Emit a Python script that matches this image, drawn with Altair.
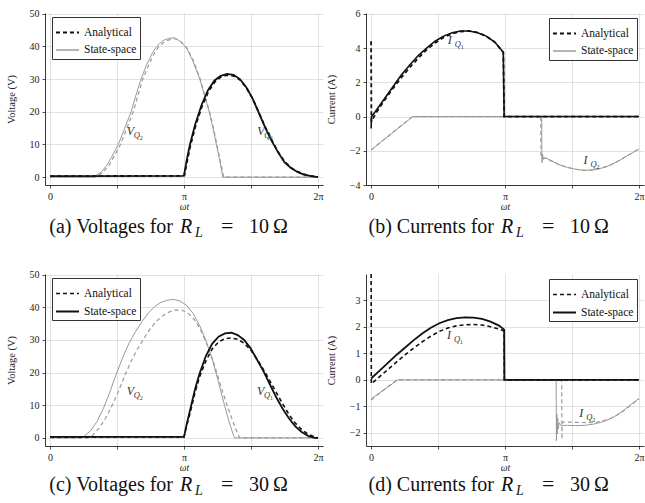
import altair as alt
import pandas as pd

PI = 3.141592653589793
SERIF = "Liberation Serif"

# ---------------- data (x in rad, y in V or A) ----------------
# (a) voltages, R_L = 10 ohm
A_VQ2_SS = [(0, 0), (1.0, 0), (1.05, 0.3), (1.2, 1.5), (1.35, 4), (1.5, 7.5), (1.6, 10), (1.75, 15), (1.9, 20),
            (2.0, 24.5), (2.12, 29.5), (2.25, 34), (2.4, 38), (2.5, 40), (2.65, 41.8), (2.8, 42.5), (2.92, 42.6),
            (3.05, 41.5), (3.2, 39.5), (3.35, 35.5), (3.51, 30), (3.62, 25), (3.73, 20), (3.82, 15), (3.9, 10),
            (3.98, 5), (4.05, 0), (6.283, 0)]
A_VQ2_AN = [(0, 0), (1.05, 0), (1.1, 0.3), (1.25, 1.6), (1.4, 4), (1.55, 7.5), (1.65, 10), (1.8, 15), (1.95, 20),
            (2.05, 24.5), (2.16, 29.5), (2.3, 34), (2.45, 38), (2.55, 40), (2.7, 41.6), (2.85, 42.2), (2.95, 42.3),
            (3.08, 41.3), (3.22, 39.3), (3.37, 35.3), (3.52, 30), (3.63, 25), (3.74, 20), (3.83, 15), (3.91, 10),
            (3.99, 5), (4.07, 0), (6.283, 0)]
A_VQ1_SS = [(0, 0.3), (3.1, 0.4), (3.14, 0.5), (3.2, 5), (3.28, 10), (3.4, 16), (3.55, 22), (3.7, 26.5), (3.85, 29.5),
            (4.0, 31), (4.15, 31.6), (4.3, 31.3), (4.45, 30), (4.6, 27.5), (4.75, 24), (4.9, 19.5), (5.05, 15),
            (5.2, 11), (5.35, 7.5), (5.5, 4.5), (5.65, 2.8), (5.8, 1.6), (5.95, 0.8), (6.1, 0.4), (6.283, 0)]
A_VQ1_AN = [(0, 0.3), (3.1, 0.4), (3.15, 0.5), (3.21, 4.6), (3.29, 9.6), (3.41, 15.6), (3.56, 21.6), (3.71, 26.1),
            (3.86, 29.1), (4.0, 30.6), (4.15, 31.2), (4.3, 31.0), (4.45, 29.8), (4.6, 27.4), (4.75, 24), (4.9, 19.6),
            (5.05, 15.2), (5.2, 11.2), (5.35, 7.7), (5.5, 4.7), (5.65, 2.9), (5.8, 1.7), (5.95, 0.9), (6.1, 0.4),
            (6.283, 0)]

# (b) currents, R_L = 10 ohm
B_IQ1_SS = [(0, -0.7), (0.01, 0.0), (0.1, 0.3), (0.3, 1.0), (0.5, 1.7), (0.7, 2.4), (0.9, 3.0), (1.1, 3.55),
            (1.3, 4.0), (1.5, 4.4), (1.7, 4.7), (1.9, 4.9), (2.1, 5.0), (2.3, 5.0), (2.5, 4.9), (2.7, 4.7),
            (2.9, 4.35), (3.1, 3.75), (3.12, 0), (6.283, 0)]
B_IQ1_AN = [(0, 4.4), (0.006, -0.3), (0.1, 0.15), (0.3, 0.9), (0.5, 1.6), (0.7, 2.25), (0.9, 2.85), (1.1, 3.4),
            (1.3, 3.9), (1.5, 4.3), (1.7, 4.62), (1.9, 4.85), (2.1, 4.97), (2.3, 5.0), (2.5, 4.9), (2.7, 4.7),
            (2.9, 4.35), (3.1, 3.75), (3.12, 0), (6.283, 0)]
B_IQ2_SS = [(0, -1.95), (0.98, 0), (4.0, 0), (4.005, -2.7), (4.02, -2.2), (4.04, -2.5), (4.08, -2.4), (4.2, -2.55),
            (4.4, -2.8), (4.6, -2.97), (4.8, -3.08), (5.0, -3.14), (5.2, -3.12), (5.4, -3.02), (5.6, -2.85),
            (5.8, -2.6), (6.0, -2.3), (6.283, -1.9)]
B_IQ2_AN = [(0, -1.95), (0.97, 0), (3.98, 0), (3.985, -2.4), (4.1, -2.45), (4.2, -2.56), (4.4, -2.8), (4.6, -2.97),
            (4.8, -3.08), (5.0, -3.14), (5.2, -3.12), (5.4, -3.02), (5.6, -2.85), (5.8, -2.6), (6.0, -2.3),
            (6.283, -1.9)]

# (c) voltages, R_L = 30 ohm
C_VQ2_SS = [(0, 0), (0.7, 0), (0.8, 0.5), (0.95, 2.2), (1.1, 5), (1.25, 9), (1.4, 14), (1.55, 19.5), (1.7, 24.5),
            (1.85, 29), (2.0, 32.5), (2.15, 35.5), (2.3, 38.2), (2.45, 40.2), (2.6, 41.5), (2.75, 42.2), (2.9, 42.4),
            (3.05, 41.9), (3.2, 40.6), (3.35, 38.2), (3.5, 34.6), (3.65, 30), (3.8, 24.2), (3.95, 17), (4.1, 9.5),
            (4.2, 4.8), (4.3, 0.8), (4.33, 0), (6.283, 0)]
C_VQ2_AN = [(0, 0), (0.88, 0), (1.0, 0.8), (1.15, 3), (1.3, 6), (1.45, 9.8), (1.6, 14.2), (1.75, 19), (1.9, 23.5),
            (2.05, 27.2), (2.2, 30.5), (2.35, 33.5), (2.5, 35.8), (2.65, 37.5), (2.8, 38.6), (2.95, 39.2),
            (3.1, 39.1), (3.25, 38), (3.4, 36), (3.55, 32.5), (3.7, 28), (3.85, 22.5), (4.0, 16), (4.15, 10),
            (4.3, 4.5), (4.44, 0), (6.283, 0)]
C_VQ1_SS = [(0, 0.3), (3.14, 0.3), (3.2, 4), (3.3, 9.5), (3.4, 15), (3.5, 19.5), (3.65, 25), (3.8, 28.8), (3.95, 31),
            (4.1, 32), (4.25, 32.2), (4.4, 31.5), (4.55, 30), (4.7, 27.5), (4.85, 24), (5.0, 20.5), (5.15, 16.5),
            (5.3, 12.5), (5.45, 9), (5.6, 6), (5.75, 3.5), (5.9, 1.8), (6.05, 0.6), (6.2, 0), (6.283, 0)]
C_VQ1_AN = [(0, 0.3), (3.14, 0.3), (3.2, 3.5), (3.3, 8.5), (3.4, 14), (3.5, 18.5), (3.65, 23.5), (3.8, 27.2),
            (3.95, 29.4), (4.1, 30.4), (4.25, 30.6), (4.4, 30.2), (4.55, 29), (4.7, 27), (4.85, 24.2), (5.0, 21),
            (5.15, 17.5), (5.3, 14), (5.45, 10.5), (5.6, 7.2), (5.75, 4.5), (5.9, 2.5), (6.05, 1.1), (6.2, 0.3),
            (6.283, 0)]

# (d) currents, R_L = 30 ohm
D_IQ1_SS = [(0, 0.05), (0.2, 0.35), (0.4, 0.65), (0.6, 0.95), (0.8, 1.22), (1.0, 1.5), (1.2, 1.75), (1.4, 1.97),
            (1.6, 2.14), (1.8, 2.26), (2.0, 2.33), (2.2, 2.36), (2.4, 2.35), (2.6, 2.3), (2.8, 2.2), (3.0, 2.05),
            (3.12, 1.9), (3.125, 0), (6.283, 0)]
D_IQ1_AN = [(0, 4.0), (0.005, -0.15), (0.2, 0.12), (0.4, 0.4), (0.6, 0.68), (0.8, 0.95), (1.0, 1.2), (1.2, 1.44),
            (1.4, 1.65), (1.6, 1.83), (1.8, 1.96), (2.0, 2.04), (2.2, 2.08), (2.4, 2.09), (2.6, 2.07), (2.8, 2.01),
            (3.0, 1.92), (3.12, 1.85), (3.125, 0), (6.283, 0)]
D_IQ2_SS = [(0, -0.72), (0.63, 0), (4.34, 0), (4.345, -2.3), (4.355, -1.3), (4.365, -2.05), (4.375, -1.45),
            (4.39, -1.85), (4.41, -1.62), (4.45, -1.72), (4.6, -1.72), (4.8, -1.73), (5.0, -1.72), (5.2, -1.68),
            (5.4, -1.6), (5.6, -1.48), (5.8, -1.3), (6.0, -1.05), (6.283, -0.7)]
D_IQ2_AN = [(0, -0.76), (0.6, 0), (4.47, 0), (4.475, -2.25), (4.48, -1.6), (4.7, -1.6), (4.9, -1.61), (5.1, -1.62),
            (5.3, -1.6), (5.5, -1.52), (5.7, -1.4), (5.9, -1.2), (6.1, -0.95), (6.283, -0.72)]

# curve labels: (main, sub, subsub, x, y)
LABELS_A = [("V", "Q", "2", 1.80, 12.9), ("V", "Q", "1", 4.86, 12.9)]
LABELS_B = [("I", "Q", "1", 1.80, 4.25), ("I", "Q", "2", 4.98, -2.8)]
LABELS_C = [("V", "Q", "2", 1.80, 13.0), ("V", "Q", "1", 4.85, 13.0)]
LABELS_D = [("I", "Q", "1", 1.78, 1.54), ("I", "Q", "2", 4.88, -1.4)]

CAPTIONS = ["(a) Voltages for", "(b) Currents for", "(c) Voltages for", "(d) Currents for"]
RL_VALUES = ["10", "10", "30", "30"]
METHODS = ["Analytical", "State-space"]
X_TICKS = [0, PI / 2, PI, 3 * PI / 2, 2 * PI]

W, H = 278, 172
BLACK, GRAY = "#111111", "#9a9a9a"
DASH = [4, 3]


def xenc():
    return alt.X("x:Q", scale=alt.Scale(domain=[-0.12, 6.4], nice=False, zero=False),
                 axis=alt.Axis(values=X_TICKS, title="ωt", titleFontStyle="italic",
                               labelExpr="datum.value < 0.1 ? '0' : (abs(datum.value - PI) < 0.1 ? 'π' : (abs(datum.value - 2*PI) < 0.1 ? '2π' : ''))"))


def yenc(domain, ticks, title):
    return alt.Y("y:Q", scale=alt.Scale(domain=domain, nice=False, zero=False),
                 axis=alt.Axis(values=ticks, title=title, format="d"))


def line_layer(points, color, width, dashed, domain, ticks, title):
    df = pd.DataFrame({"x": [p[0] for p in points], "y": [p[1] for p in points],
                       "i": list(range(len(points)))})
    kw = dict(color=color, strokeWidth=width)
    if dashed:
        kw["strokeDash"] = DASH
    return alt.Chart(df).mark_line(**kw).encode(x=xenc(), y=yenc(domain, ticks, title), order="i:Q")


def legend_layer(colors, widths, lx, ly, domain, ticks, title):
    df = pd.DataFrame({"x": [0, 0], "y": [0, 0], "method": METHODS})
    leg = alt.Legend(title=None, orient="none", legendX=lx, legendY=ly, fillColor="white",
                     strokeColor="#333333", padding=3, symbolType="stroke", symbolSize=530,
                     labelFont=SERIF, labelFontSize=11.5, labelColor="#111111", rowPadding=0, labelOffset=4)
    return alt.Chart(df).mark_line().encode(
        x=xenc(), y=yenc(domain, ticks, title),
        color=alt.Color("method:N", scale=alt.Scale(domain=METHODS, range=colors), legend=leg),
        strokeDash=alt.StrokeDash("method:N", scale=alt.Scale(domain=METHODS, range=[DASH, [1, 0]]), legend=leg),
        strokeWidth=alt.StrokeWidth("method:N", scale=alt.Scale(domain=METHODS, range=widths), legend=leg),
    )


def label_layers(labels, domain, ticks, title):
    df = pd.DataFrame({"main": [l[0] for l in labels], "sub": [l[1] for l in labels],
                       "subsub": [l[2] for l in labels], "x": [l[3] for l in labels], "y": [l[4] for l in labels]})
    base = alt.Chart(df).encode(x=xenc(), y=yenc(domain, ticks, title))
    m = base.mark_text(align="left", baseline="alphabetic", font=SERIF, fontStyle="italic",
                       fontSize=12, color="#333333").encode(text="main:N")
    s = base.mark_text(align="left", baseline="alphabetic", font=SERIF, fontStyle="italic",
                       fontSize=8.5, dx=7, dy=3, color="#333333").encode(text="sub:N")
    ss = base.mark_text(align="left", baseline="alphabetic", font=SERIF,
                        fontSize=6, dx=13, dy=5, color="#333333").encode(text="subsub:N")
    return [m, s, ss]


def caption_layers(idx, yb):
    df = pd.DataFrame({"p": [CAPTIONS[idx]], "r": ["R"], "l": ["L"], "e": ["="], "v": [RL_VALUES[idx] + "\u2009Ω"]})
    base = alt.Chart(df)
    kw = dict(baseline="alphabetic", font=SERIF, color="#111111")
    return [
        base.mark_text(align="right", fontSize=20, **kw).encode(x=alt.value(128), y=alt.value(yb), text="p:N"),
        base.mark_text(align="left", fontSize=20, fontStyle="italic", **kw).encode(x=alt.value(135), y=alt.value(yb), text="r:N"),
        base.mark_text(align="left", fontSize=14, fontStyle="italic", **kw).encode(x=alt.value(150), y=alt.value(yb + 4), text="l:N"),
        base.mark_text(align="left", fontSize=22, **kw).encode(x=alt.value(176), y=alt.value(yb), text="e:N"),
        base.mark_text(align="left", fontSize=20, **kw).encode(x=alt.value(204), y=alt.value(yb), text="v:N"),
    ]


def panel(idx, series, labels, domain, ticks, title, leg_colors, leg_widths, lx, ly, yb):
    layers = [line_layer(p, c, w, d, domain, ticks, title) for (p, c, w, d) in series]
    layers.append(legend_layer(leg_colors, leg_widths, lx, ly, domain, ticks, title))
    layers += label_layers(labels, domain, ticks, title)
    layers += caption_layers(idx, yb)
    return alt.layer(*layers).properties(width=W, height=H)


pa = panel(0, [(A_VQ2_SS, GRAY, 1.0, False), (A_VQ2_AN, GRAY, 1.2, True),
               (A_VQ1_SS, BLACK, 1.8, False), (A_VQ1_AN, BLACK, 1.8, True)],
           LABELS_A, [-2.4, 50.2], [0, 10, 20, 30, 40, 50], "Voltage (V)",
           [BLACK, "#444444"], [1.8, 0.8], 7, 4, 220)
pb = panel(1, [(B_IQ2_SS, GRAY, 1.0, False), (B_IQ2_AN, GRAY, 1.2, True),
               (B_IQ1_SS, BLACK, 1.6, False), (B_IQ1_AN, BLACK, 1.8, True)],
           LABELS_B, [-4, 6.05], [-4, -2, 0, 2, 4, 6], "Current (A)",
           [BLACK, "#444444"], [1.8, 0.8], 183, 5, 220)
pc = panel(2, [(C_VQ2_SS, GRAY, 1.0, False), (C_VQ2_AN, GRAY, 1.2, True),
               (C_VQ1_SS, BLACK, 1.8, False), (C_VQ1_AN, BLACK, 1.6, True)],
           LABELS_C, [-2.5, 50.2], [0, 10, 20, 30, 40, 50], "Voltage (V)",
           [BLACK, BLACK], [1.4, 1.8], 7, 4, 217)
pd_ = panel(3, [(D_IQ2_SS, GRAY, 1.0, False), (D_IQ2_AN, GRAY, 1.2, True),
                (D_IQ1_SS, BLACK, 1.8, False), (D_IQ1_AN, BLACK, 1.6, True)],
            LABELS_D, [-2.5, 4.0], [-2, -1, 0, 1, 2, 3], "Current (A)",
            [BLACK, BLACK], [1.4, 1.8], 183, 5, 217)

res = dict(color="independent", strokeDash="independent", strokeWidth="independent")
row1 = alt.hconcat(pa, pb, spacing=2).resolve_scale(**res).resolve_legend(**res)
row2 = alt.hconcat(pc, pd_, spacing=2).resolve_scale(**res).resolve_legend(**res)

chart = alt.vconcat(row1, row2, spacing=29).resolve_scale(**res).resolve_legend(**res).properties(
    padding={"left": 6, "top": 8, "right": 0, "bottom": 0},
    background="white",
).configure_view(stroke=None).configure_axis(
    labelFont=SERIF, labelFontSize=10, labelColor="#222222",
    titleFont=SERIF, titleFontSize=10.5, titleFontWeight="normal", titleColor="#222222",
    domainColor="#222222", domainWidth=0.9, tickColor="#222222", tickSize=3, tickWidth=0.8,
    gridColor="#d9d9d9", gridWidth=0.8, labelPadding=3,
).configure_axisY(titlePadding=13).configure_axisX(titlePadding=0, titleFontSize=9.5)

chart.save("out.html", embed_options={"renderer": "svg", "actions": False})
